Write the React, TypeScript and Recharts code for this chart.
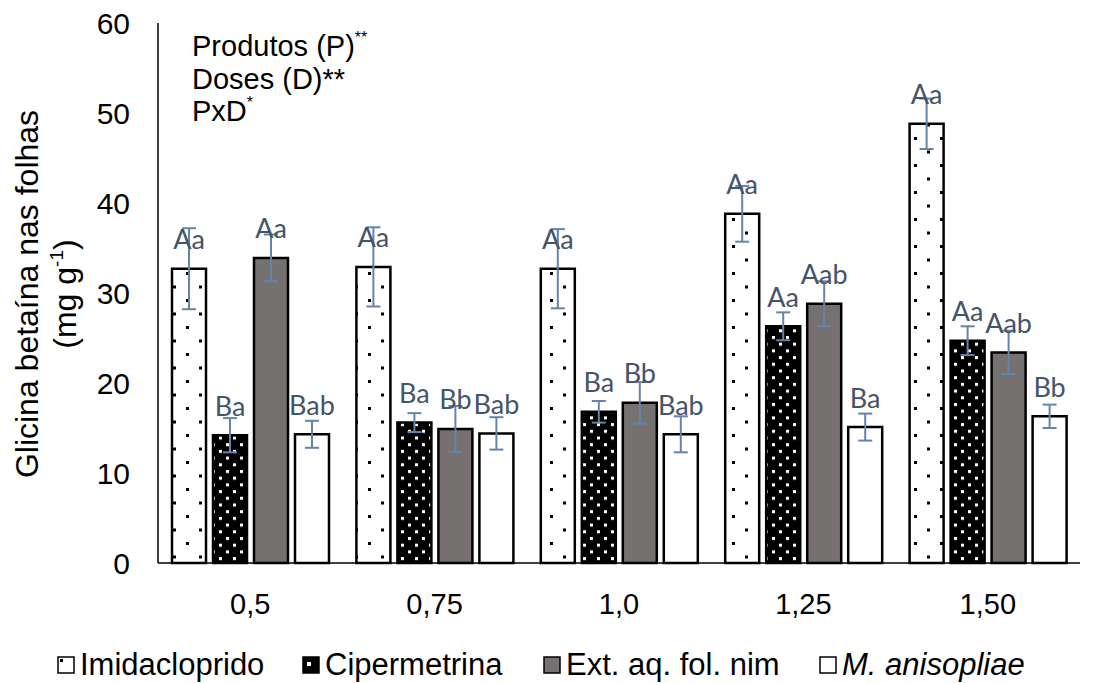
import { BarChart, Bar, XAxis, YAxis, ErrorBar, LabelList, Legend, Customized } from 'recharts';

const doses = ['0,5', '0,75', '1,0', '1,25', '1,50'];

const imidacloprido = [32.7, 32.9, 32.7, 38.8, 48.8];
const imidaclopridoErr = [4.5, 4.4, 4.4, 3.1, 2.8];
const imidaclopridoLetters = ['Aa', 'Aa', 'Aa', 'Aa', 'Aa'];

const cipermetrina = [14.2, 15.6, 16.8, 26.3, 24.7];
const cipermetrinaErr = [1.9, 1.05, 1.2, 1.55, 1.6];
const cipermetrinaLetters = ['Ba', 'Ba', 'Ba', 'Aa', 'Aa'];

const extNim = [33.9, 14.9, 17.8, 28.8, 23.4];
const extNimErr = [2.6, 2.55, 2.3, 2.5, 2.4];
const extNimLetters = ['Aa', 'Bb', 'Bb', 'Aab', 'Aab'];

const metarhizium = [14.3, 14.4, 14.3, 15.1, 16.3];
const metarhiziumErr = [1.5, 1.8, 2.0, 1.5, 1.3];
const metarhiziumLetters = ['Bab', 'Bab', 'Bab', 'Ba', 'Bb'];

const yTicks = [0, 10, 20, 30, 40, 50, 60];

const data = doses.map((dose, i) => ({
  dose,
  imid: imidacloprido[i],
  imidErr: imidaclopridoErr[i],
  imidLbl: imidaclopridoLetters[i],
  ciper: cipermetrina[i],
  ciperErr: cipermetrinaErr[i],
  ciperLbl: cipermetrinaLetters[i],
  ext: extNim[i],
  extErr: extNimErr[i],
  extLbl: extNimLetters[i],
  meta: metarhizium[i],
  metaErr: metarhiziumErr[i],
  metaLbl: metarhiziumLetters[i],
}));

const FONT = '"Liberation Sans", Arial, sans-serif';
const ERR_COLOR = '#6584A8';

const series = [
  { key: 'imid', name: 'Imidacloprido', fill: 'url(#patImid)', legendLeft: 57 },
  { key: 'ciper', name: 'Cipermetrina', fill: 'url(#patCiper)', legendLeft: 302 },
  { key: 'ext', name: 'Ext. aq. fol. nim', fill: '#767171', legendLeft: 543 },
  { key: 'meta', name: 'M. anisopliae', fill: '#ffffff', legendLeft: 819 },
];

const renderLetter = (props: any) => {
  const { x, y, width, value } = props;
  return (
    <text
      x={Number(x) + Number(width) / 2}
      y={Number(y) - 30}
      textAnchor="middle"
      dominantBaseline="central"
      fill="#44546A"
      fontFamily="Lato, sans-serif"
      fontSize={27}
    >
      {value}
    </text>
  );
};

const Extras = () => (
  <g>
    <defs>
      <pattern id="patImid" patternUnits="userSpaceOnUse" width={26} height={27} x={4} y={2}>
        <rect width={26} height={27} fill="#fff" />
        <rect x={0} y={0} width={3} height={3} fill="#000" />
        <rect x={13} y={13.5} width={3} height={3} fill="#000" />
      </pattern>
      <pattern id="patCiper" patternUnits="userSpaceOnUse" width={14} height={13.4}>
        <rect width={14} height={13.4} fill="#000" />
        <rect x={2} y={1} width={3} height={3} fill="#fff" />
        <rect x={9} y={7.7} width={3} height={3} fill="#fff" />
      </pattern>
    </defs>
    <g fontFamily={FONT} fill="#000">
      <text x={192} y={56} fontSize={29}>
        Produtos (P)<tspan fontSize={16} dy={-13}>**</tspan>
      </text>
      <text x={192} y={89} fontSize={29}>
        Doses (D)**
      </text>
      <text x={192} y={121} fontSize={29}>
        PxD<tspan fontSize={16} dy={-13}>*</tspan>
      </text>
      <text x={38} y={294} fontSize={32} textAnchor="middle" transform="rotate(-90 38 294)">
        Glicina betaína nas folhas
      </text>
      <text x={76} y={294} fontSize={32} textAnchor="middle" transform="rotate(-90 76 294)">
        (mg g<tspan fontSize={19} dy={-13}>-1</tspan>
        <tspan dy={13}>)</tspan>
      </text>
    </g>
  </g>
);

const LegendIcon = ({ k }: { k: string }) => (
  <svg width={18} height={18} style={{ display: 'block' }}>
    <rect x={1} y={1} width={16} height={16} fill={k === 'ciper' ? '#000' : k === 'ext' ? '#767171' : '#fff'} stroke="#000" strokeWidth={1.5} />
    {k === 'imid' && <rect x={3} y={3} width={3} height={3} fill="#000" />}
    {k === 'ciper' && <rect x={5} y={6} width={4} height={4} fill="#fff" />}
  </svg>
);

const renderLegend = () => (
  <div style={{ position: 'relative', width: 1112, height: 40, fontFamily: FONT, fontSize: 31, color: '#000' }}>
    {series.map((s) => (
      <div
        key={s.key}
        style={{ position: 'absolute', left: s.legendLeft, top: 0, height: 40, display: 'flex', alignItems: 'center', gap: 5 }}
      >
        <LegendIcon k={s.key} />
        <span style={{ fontStyle: s.key === 'meta' ? 'italic' : 'normal', whiteSpace: 'nowrap' }}>{s.name}</span>
      </div>
    ))}
  </div>
);

export default function App() {
  return (
    <div style={{ position: 'absolute', left: 0, top: 0, background: '#fff' }}>
      <BarChart
        width={1112}
        height={683}
        data={data}
        margin={{ top: 23, right: 32, bottom: 90, left: 0 }}
        barSize={34}
        barGap={7}
      >
        <Customized component={Extras} />
        <XAxis
          dataKey="dose"
          height={30}
          axisLine={{ stroke: '#000', strokeWidth: 1.5 }}
          tickLine={false}
          tickSize={0}
          tickMargin={30}
          tick={{ fontSize: 29, fill: '#000', fontFamily: FONT }}
        />
        <YAxis
          type="number"
          domain={[0, 60]}
          ticks={yTicks}
          width={158}
          axisLine={{ stroke: '#000', strokeWidth: 1.5 }}
          tickLine={false}
          tickSize={0}
          tickMargin={28}
          tick={{ fontSize: 30, fill: '#000', fontFamily: FONT }}
        />
        <Legend
          layout="horizontal"
          verticalAlign="middle"
          align="center"
          wrapperStyle={{ top: 645, left: 0, width: 1112 }}
          content={renderLegend}
        />
        {series.map((s) => (
          <Bar
            key={s.key}
            dataKey={s.key}
            name={s.name}
            fill={s.fill}
            stroke="#000"
            strokeWidth={2.5}
            isAnimationActive={false}
          >
            <ErrorBar dataKey={`${s.key}Err`} width={7} stroke={ERR_COLOR} strokeWidth={2} direction="y" isAnimationActive={false} />
            <LabelList dataKey={`${s.key}Lbl`} content={renderLetter} />
          </Bar>
        ))}
      </BarChart>
    </div>
  );
}
